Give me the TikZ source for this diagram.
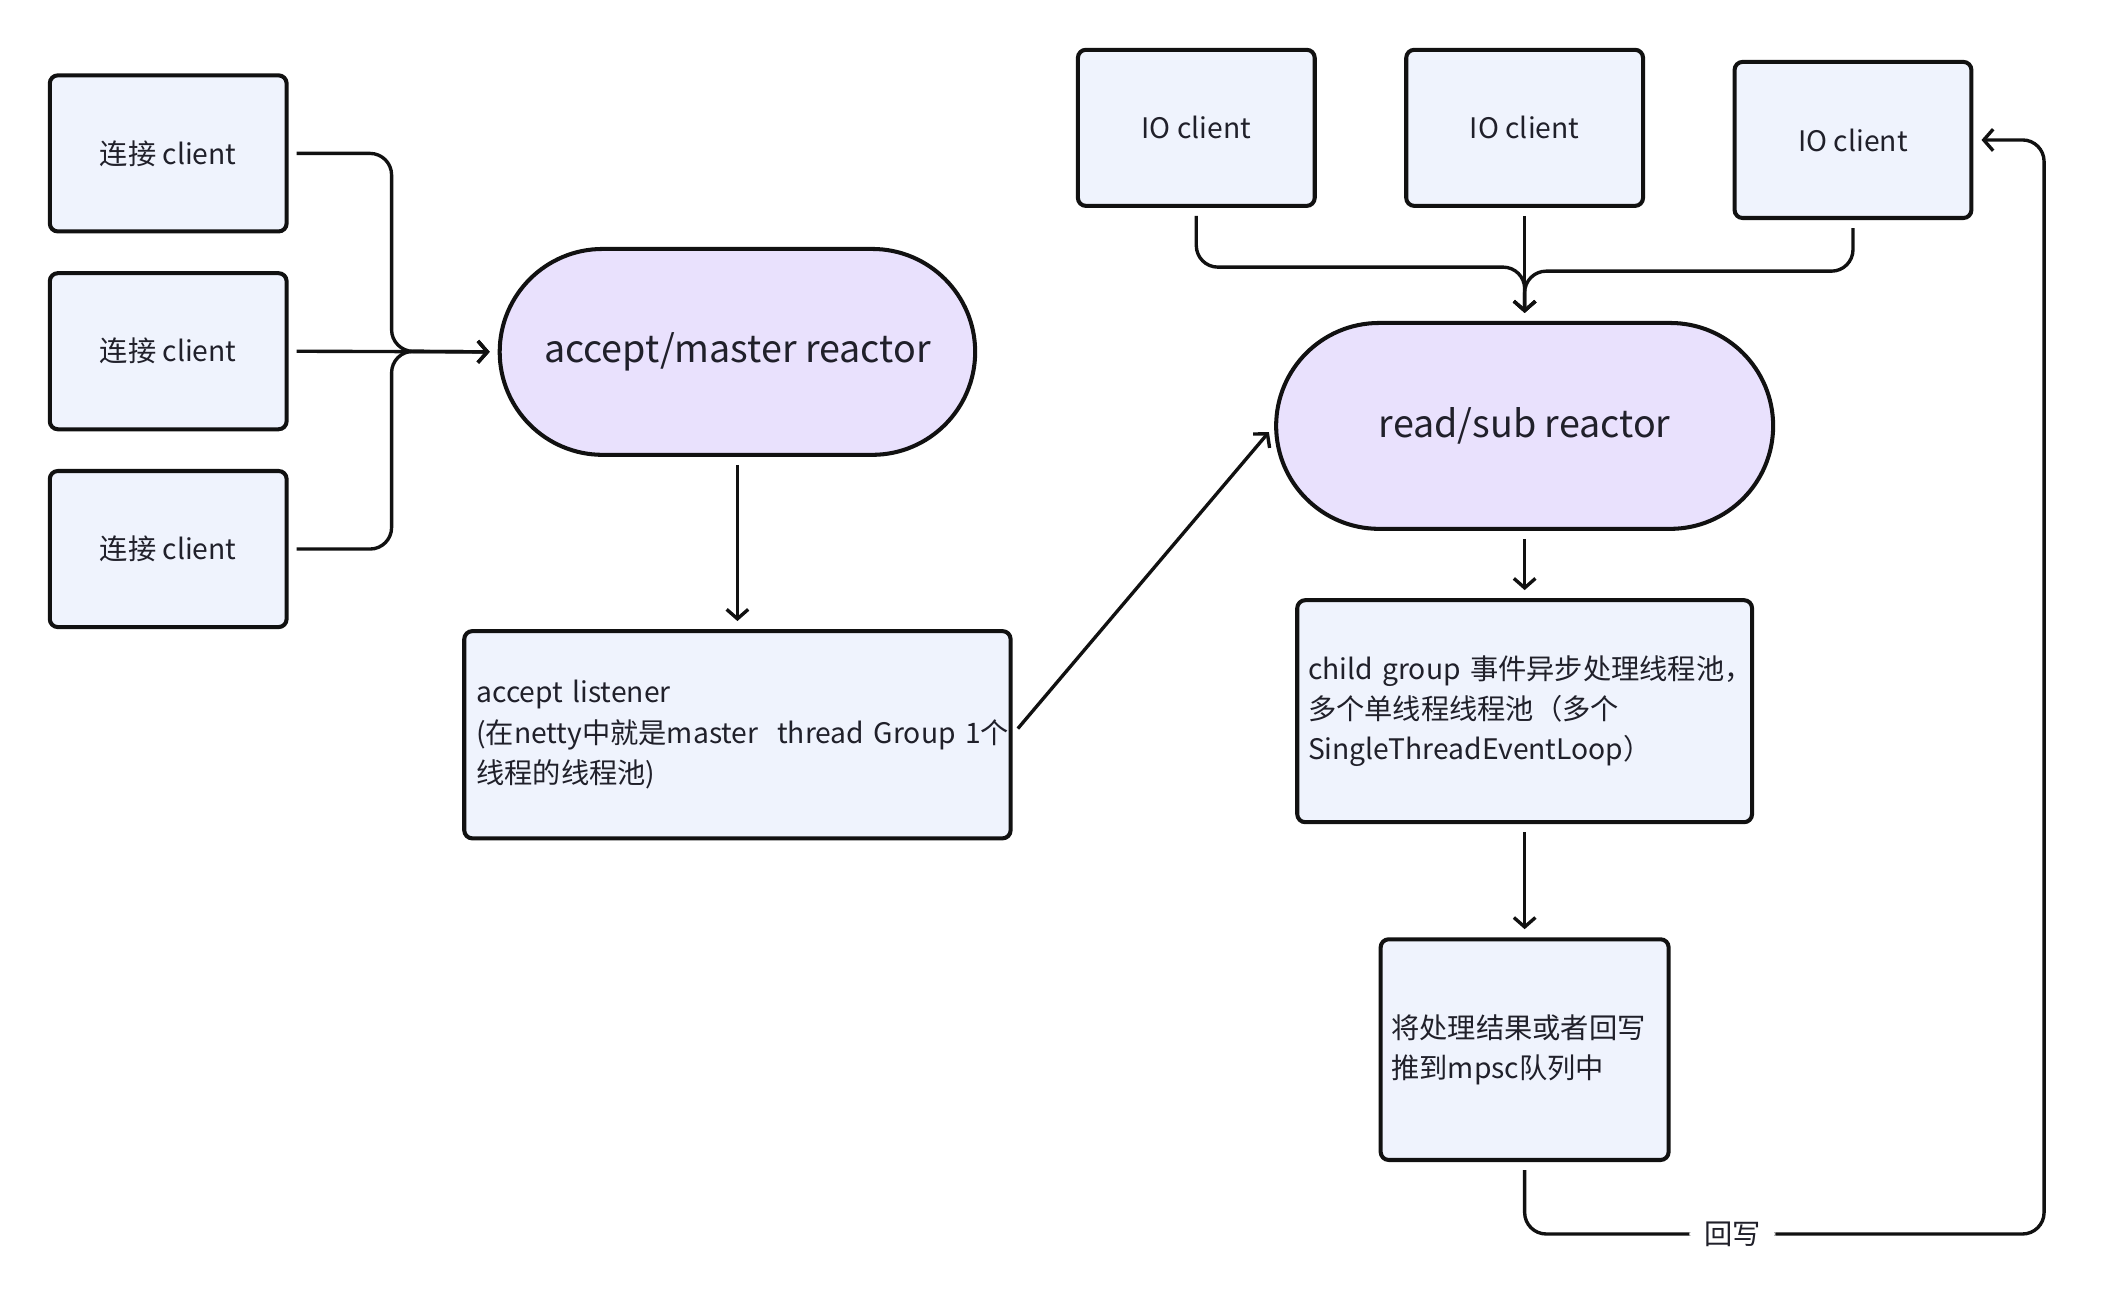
\documentclass[tikz,border=0pt]{standalone}
\usepackage{fontspec}
\setmainfont{Noto Sans CJK SC}
\usetikzlibrary{arrows.meta,shapes.misc}

\definecolor{boxfill}{RGB}{239,243,253}
\definecolor{reactorfill}{RGB}{233,225,253}
\definecolor{inkline}{RGB}{17,17,17}
\definecolor{inktext}{RGB}{32,32,42}

\tikzset{
  clientbox/.style={draw=inkline, line width=3pt, fill=boxfill, rounded corners=6pt,
    minimum width=176pt, minimum height=116pt, text=inktext, font=\fontsize{21}{30}\selectfont},
  textbox/.style={clientbox, align=left, inner xsep=9pt},
  reactor/.style={draw=inkline, line width=3pt, fill=reactorfill, rounded rectangle,
    minimum height=153pt, text=inktext, font=\fontsize{28}{34}\selectfont},
  link/.style={draw=inkline, line width=2.5pt, rounded corners=16pt,
    shorten <=6pt, shorten >=6pt, -{Straight Barb[length=7pt,width=16pt]}}
}

\begin{document}
\begin{tikzpicture}[x=1pt, y=-1pt]
                              % page
                              \fill[white] (0,0) rectangle (1568,975);

                              % connecting clients
                              \node[clientbox] (conn1) at (125,114) {连接 client};
                              \node[clientbox] (conn2) at (125,261) {连接 client};
                              \node[clientbox] (conn3) at (125,408) {连接 client};

                              % master side
                              \node[reactor, minimum width=360pt] (master) at (548,261.5) {accept/master reactor};
                              \node[textbox, text width=388pt, minimum height=154pt] (listener) at (548,546)
                                {accept listener\\(在netty中就是master~~thread~Group~1个\\线程的线程池)};

                              % IO clients
                              \node[clientbox] (io1) at (889,95) {IO client};
                              \node[clientbox] (io2) at (1133,95) {IO client};
                              \node[clientbox] (io3) at (1377,104) {IO client};

                              % sub side
                              \node[reactor, minimum width=376pt] (sub) at (1133,316.5) {read/sub reactor};
                              \node[textbox, text width=322pt, inner xsep=8pt, minimum height=165pt] (child) at (1133,528.5)
                                {child~group~事件异步处理线程池，\\多个单线程线程池（多个\\SingleThreadEventLoop）};
                              \node[textbox, text width=198pt, inner xsep=8pt, minimum height=164pt] (result) at (1133,780)
                                {将处理结果或者回写\\推到mpsc队列中};

                              % bends
                              \coordinate (join) at (291,261);
                              \coordinate (back) at (1519,917);

                              % arrows
                              \draw[link] (conn1.east) -| (join) -- (master.west);
                              \draw[link] (conn2.east) -- (master.west);
                              \draw[link] (conn3.east) -| (join) -- (master.west);
                              \draw[link] (master.south) -- (listener.north);
                              \draw[link] (listener.east) -- (sub.west);

                              \draw[link] (io1.south) -- ++(0,44) -| (sub.north);
                              \draw[link] (io2.south) -- (sub.north);
                              \draw[link] (io3.south) -- ++(0,38) -| (sub.north);

                              \draw[link] (sub.south) -- (child.north);
                              \draw[link] (child.south) -- (result.north);
                              \draw[link] (result.south) |- node[pos=0.7, fill=white, inner xsep=11pt, text=inktext,
                                font=\fontsize{21}{26}\selectfont] {回写} (back) |- (io3.east);
                            \end{tikzpicture}
\end{document}
